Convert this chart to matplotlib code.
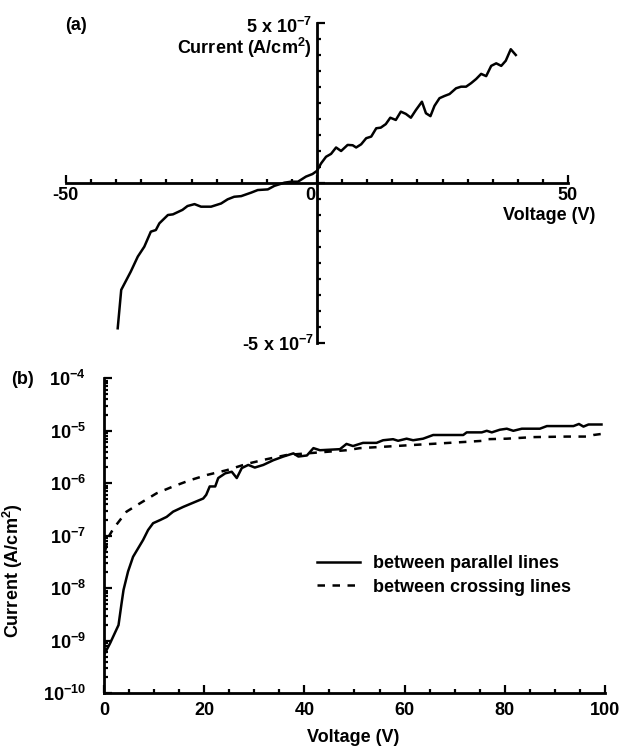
import numpy as np
import matplotlib
matplotlib.use("Agg")
import matplotlib.pyplot as plt
from matplotlib.ticker import MultipleLocator, LogLocator, NullFormatter

plt.rcParams['font.family'] = ['Liberation Sans', 'DejaVu Sans']
plt.rcParams['font.weight'] = 'bold'
plt.rcParams['mathtext.fontset'] = 'custom'
plt.rcParams['mathtext.rm'] = 'Liberation Sans:bold'
plt.rcParams['mathtext.it'] = 'Liberation Sans:bold'
plt.rcParams['mathtext.bf'] = 'Liberation Sans:bold'
plt.rcParams['mathtext.sf'] = 'Liberation Sans:bold'
plt.rcParams['mathtext.default'] = 'rm'

# panel (a): I-V sweep, current in units of 1e-7 A/cm^2
volt_a = [-39.7, -39.0, -37.1, -35.7, -34.4, -33.1, -32.1, -31.4, -29.7, -28.7,
          -26.8, -25.8, -24.4, -23.1, -21.1, -19.1, -17.8, -16.5, -15.1, -13.1,
          -11.8, -9.8, -8.5, -6.5, -5.2, -3.8, -2.2, -0.9, 0.0, 0.8,
          1.8, 2.8, 3.8, 4.8, 6.1, 7.1, 7.8, 8.8, 9.8, 10.8,
          11.8, 12.7, 13.7, 14.6, 15.7, 16.7, 17.7, 18.7, 19.7, 20.9,
          21.7, 22.6, 23.4, 24.4, 25.4, 26.4, 27.7, 28.7, 29.7, 30.7,
          31.7, 32.7, 33.7, 34.7, 35.7, 36.7, 37.6, 38.6, 39.6]
curr_a = [-4.54, -3.34, -2.77, -2.30, -1.99, -1.52, -1.47, -1.26, -1.00, -0.98,
          -0.84, -0.72, -0.66, -0.74, -0.74, -0.64, -0.51, -0.43, -0.41, -0.30,
          -0.22, -0.20, -0.09, 0.01, 0.04, 0.04, 0.20, 0.28, 0.38, 0.61,
          0.82, 0.91, 1.11, 1.00, 1.19, 1.18, 1.11, 1.21, 1.40, 1.45,
          1.71, 1.73, 1.84, 2.04, 1.97, 2.23, 2.16, 2.04, 2.28, 2.54,
          2.18, 2.09, 2.41, 2.65, 2.72, 2.78, 2.96, 3.01, 3.01, 3.12,
          3.25, 3.41, 3.34, 3.66, 3.74, 3.66, 3.82, 4.18, 4.00]

# panel (b): log10 of current (A/cm^2)
volt_par = [0, 1.2, 2.9, 3.5, 3.9, 4.8, 5.8, 6.8, 7.8, 8.8,
            9.8, 11.2, 12.5, 13.8, 15.8, 17.8, 19.8, 20.4, 21.1, 22.2,
            22.8, 24.2, 25.5, 26.5, 27.5, 28.8, 30.1, 31.8, 33.8, 35.8,
            37.8, 38.8, 40.5, 41.8, 43.1, 47.1, 48.4, 49.7, 51.7, 54.4,
            55.7, 57.7, 58.7, 60.4, 61.7, 63.7, 65.7, 68.4, 71.7, 72.4,
            75.4, 76.4, 77.4, 79.0, 80.4, 81.7, 83.4, 87.0, 88.4, 93.7,
            94.8, 95.7, 96.7, 99.3]
logi_par = [-9.27, -9.05, -8.70, -8.29, -8.03, -7.68, -7.40, -7.24, -7.08, -6.89,
            -6.76, -6.70, -6.64, -6.54, -6.45, -6.37, -6.29, -6.22, -6.06, -6.06,
            -5.90, -5.81, -5.78, -5.90, -5.71, -5.65, -5.70, -5.65, -5.56, -5.49,
            -5.43, -5.49, -5.47, -5.33, -5.37, -5.35, -5.25, -5.29, -5.23, -5.23,
            -5.18, -5.16, -5.19, -5.15, -5.18, -5.15, -5.08, -5.08, -5.08, -5.03,
            -5.03, -5.00, -5.03, -4.98, -4.96, -5.00, -4.96, -4.96, -4.91, -4.91,
            -4.87, -4.92, -4.88, -4.88]

volt_cross = [0.2, 0.9, 1.9, 4.5, 7.2, 10.5, 13.8, 17.2, 20.6, 24.5,
              28.5, 32.5, 36.5, 40.5, 44.5, 48.4, 51.1, 56.5, 61.7, 67.1,
              72.4, 75.7, 76.4, 80.4, 85.7, 92.4, 96.4, 97.7, 99.3]
logi_cross = [-7.30, -7.02, -6.86, -6.54, -6.38, -6.19, -6.06, -5.94, -5.84, -5.75,
              -5.63, -5.54, -5.46, -5.43, -5.40, -5.37, -5.33, -5.30, -5.27, -5.24,
              -5.21, -5.19, -5.16, -5.15, -5.12, -5.11, -5.11, -5.08, -5.06]

yticks_b = [1e-10, 1e-9, 1e-8, 1e-7, 1e-6, 1e-5, 1e-4]
ytick_labels_b = [r'$10^{-10}$', r'$10^{-9}$', r'$10^{-8}$', r'$10^{-7}$',
                  r'$10^{-6}$', r'$10^{-5}$', r'$10^{-4}$']
xticks_b = [0, 20, 40, 60, 80, 100]

W, H = 627, 747
fig = plt.figure(figsize=(W / 100, H / 100), dpi=100)

def fig_text(px, py, s, **kw):
    # place text by pixel position in the figure
    fig.text(px / W, 1 - py / H, s, fontsize=13, fontweight='bold', **kw)

# ---------- panel (a) ----------
ax = fig.add_axes([66 / W, 1 - 343 / H, 502 / W, 320 / H])
ax.plot(volt_a, np.array(curr_a) * 1e-7, color='black', lw=1.8)
ax.set_xlim(-50, 50)
ax.set_ylim(-5e-7, 5e-7)
ax.patch.set_visible(False)
for s in ['top', 'right']:
    ax.spines[s].set_visible(False)
ax.spines['left'].set_position(('data', 0))
ax.spines['bottom'].set_position(('data', 0))
ax.spines['left'].set_linewidth(2)
ax.spines['bottom'].set_linewidth(2)
ax.set_xticks([-50, 0, 50])
ax.set_xticklabels([])
ax.xaxis.set_minor_locator(MultipleLocator(5))
ax.set_yticks([-5e-7, 0, 5e-7])
ax.set_yticklabels([])
ax.yaxis.set_minor_locator(MultipleLocator(0.5e-7))
ax.tick_params(which='both', direction='in', width=1.6)
ax.tick_params(which='major', length=6)
ax.tick_params(which='minor', length=3)

fig_text(76, 25, '(a)', ha='center', va='center')
fig_text(312, 27, r'5 x 10$^{-7}$', ha='right', va='center')
fig_text(312, 48, r'Current (A/cm$^{2}$)', ha='right', va='center')
fig_text(314, 345, r'-5 x 10$^{-7}$', ha='right', va='center')
fig_text(65, 195, '-50', ha='center', va='center')
fig_text(315, 195, '0', ha='right', va='center')
fig_text(568, 195, '50', ha='center', va='center')
fig_text(595, 215, 'Voltage (V)', ha='right', va='center')

# ---------- panel (b) ----------
bx = fig.add_axes([104 / W, 1 - 693.3 / H, 501 / W, 315 / H])
bx.plot(volt_par, 10 ** np.array(logi_par), color='black', lw=1.8,
        label='between parallel lines')
bx.plot(volt_cross, 10 ** np.array(logi_cross), color='black', lw=1.8,
        linestyle=(0, (3, 3)), label='between crossing lines')
bx.set_yscale('log')
bx.set_xlim(0, 100)
bx.set_ylim(1e-10, 1e-4)
for s in ['top', 'right']:
    bx.spines[s].set_visible(False)
bx.spines['left'].set_linewidth(2)
bx.spines['bottom'].set_linewidth(2)
bx.set_xticks(xticks_b)
bx.xaxis.set_minor_locator(MultipleLocator(5))
bx.set_yticks(yticks_b)
bx.set_yticklabels(ytick_labels_b)
bx.yaxis.set_minor_locator(LogLocator(base=10, subs=np.arange(2, 10)))
bx.yaxis.set_minor_formatter(NullFormatter())
bx.tick_params(which='both', direction='in', width=1.6, labelsize=13)
bx.tick_params(which='major', length=6)
bx.tick_params(which='minor', length=3)
bx.tick_params(axis='y', which='major', pad=13)
bx.tick_params(axis='x', which='major', pad=6)

bx.set_ylabel(r'Current (A/cm$^{2}$)', fontsize=13, fontweight='bold')
bx.yaxis.set_label_coords(-0.158, 0.39)
bx.set_xlabel('Voltage (V)', fontsize=13, fontweight='bold')
bx.xaxis.set_label_coords(0.497, -0.113)

bx.legend(loc='upper left', bbox_to_anchor=(0.425, 0.438), frameon=False,
          fontsize=13, handlelength=2.4, handletextpad=0.7, labelspacing=0.35,
          borderpad=0, borderaxespad=0)

fig_text(22, 380, '(b)', ha='center', va='center')

fig.savefig('out.png', dpi=100)
